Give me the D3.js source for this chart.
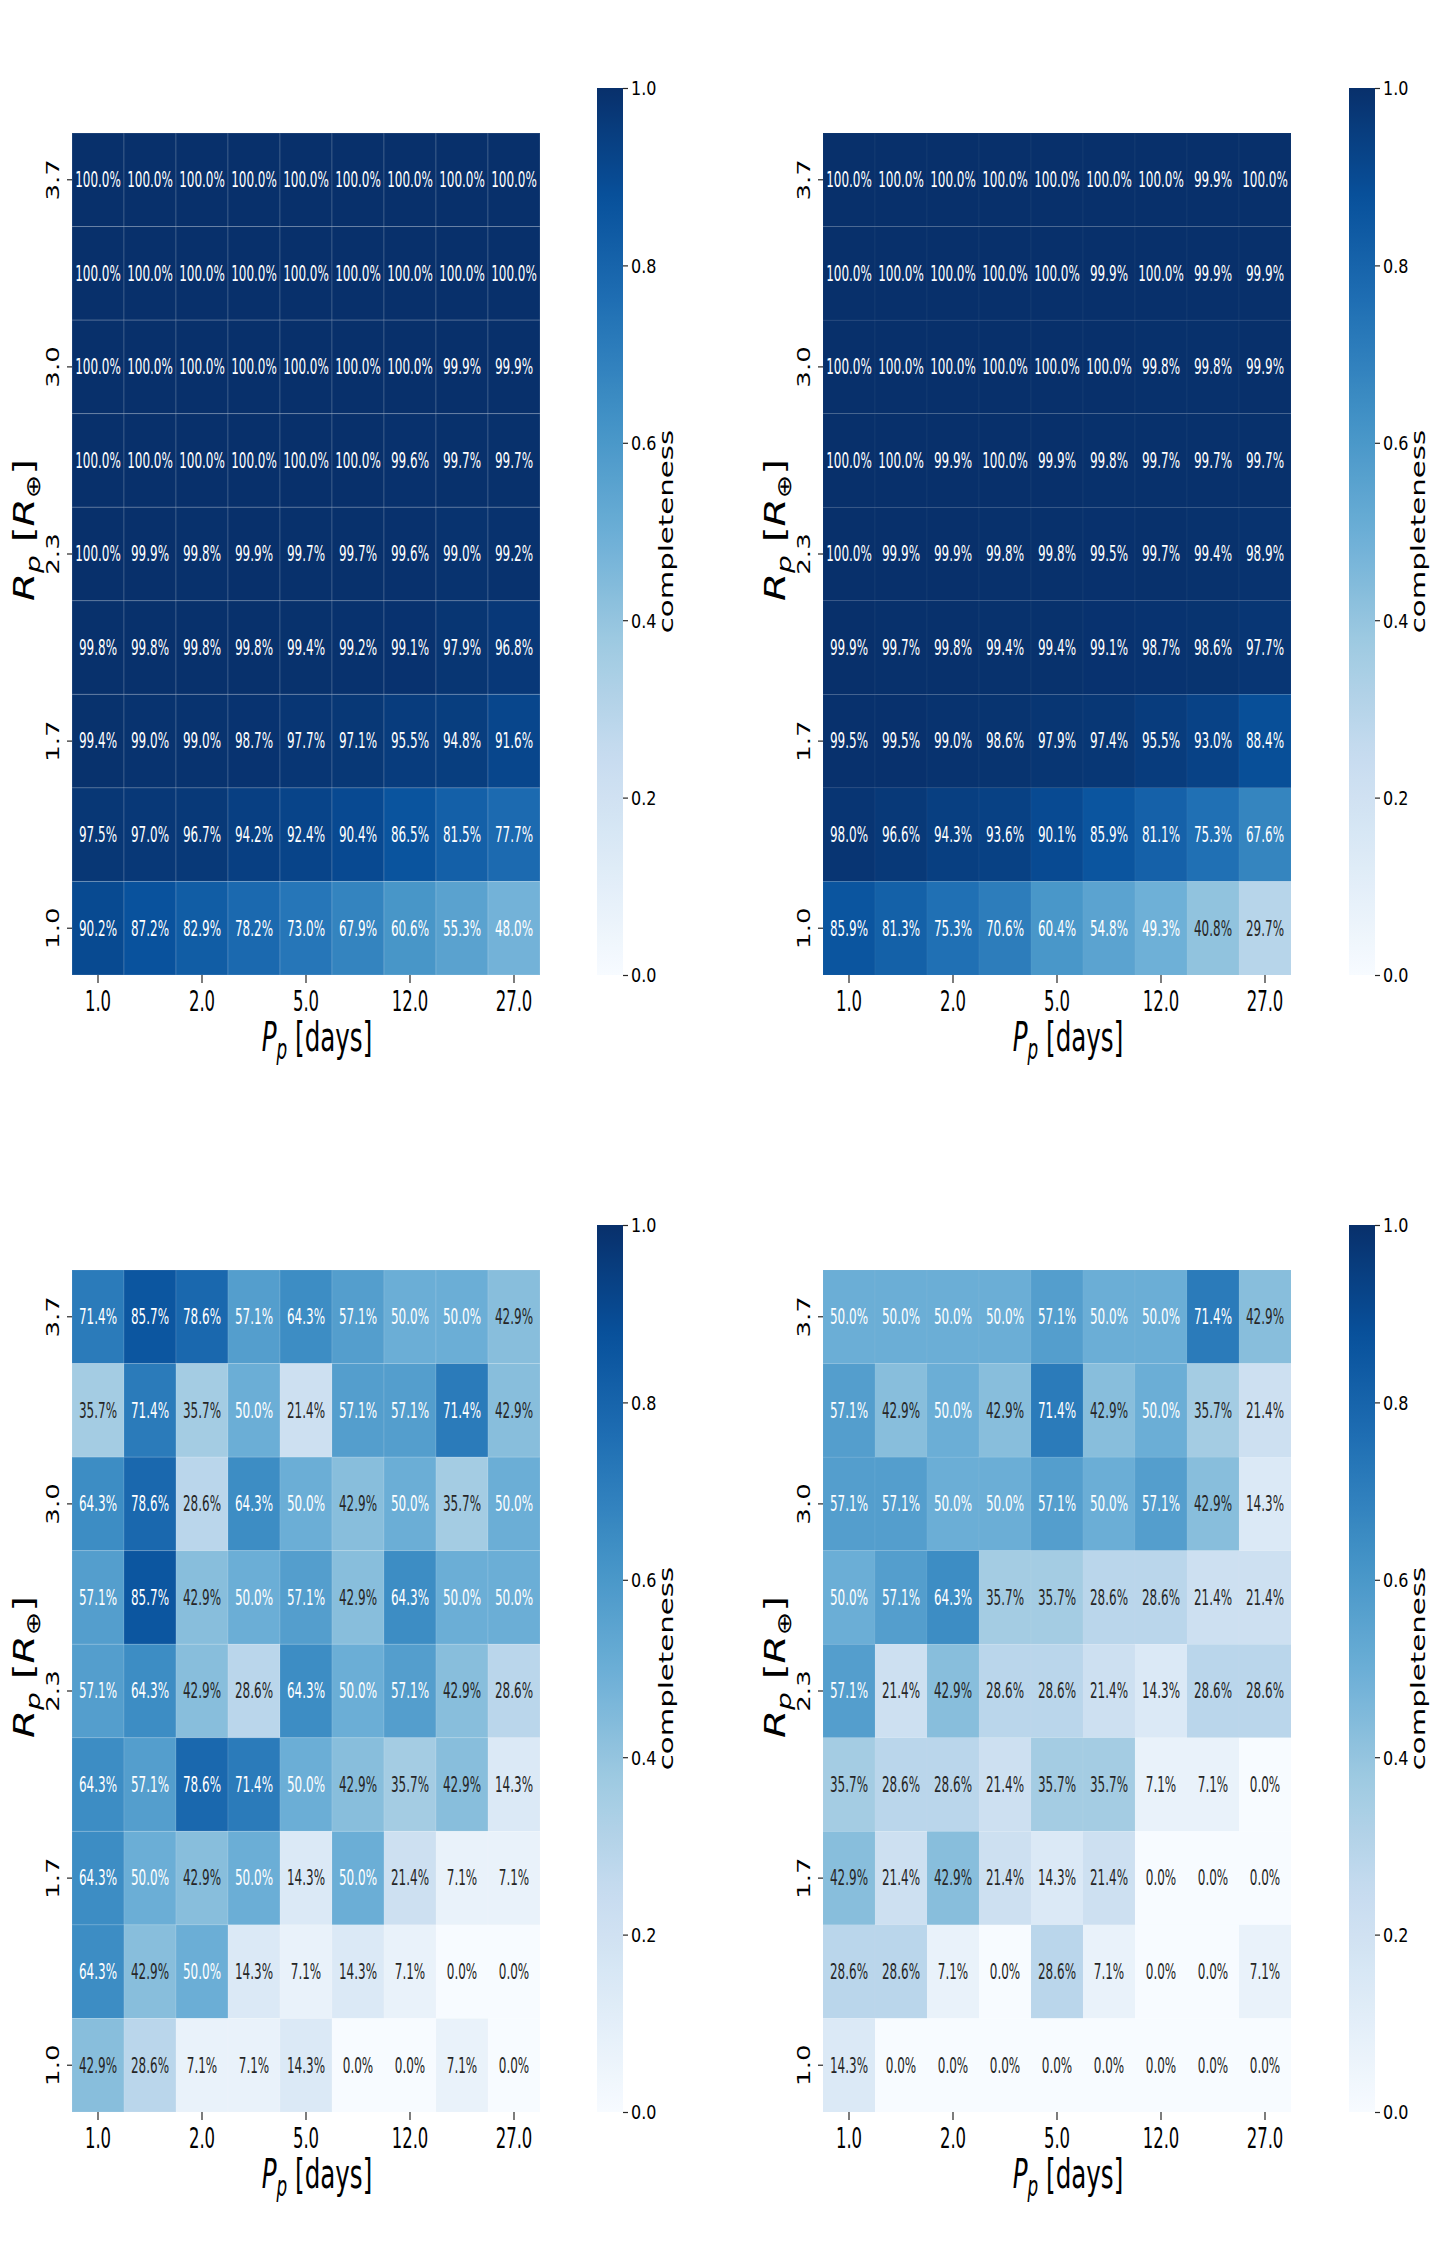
<!DOCTYPE html>
<html><head><meta charset="utf-8">
<script src="https://cdn.jsdelivr.net/npm/d3@7"></script>
<style>body{margin:0;background:#fff} svg{display:block}</style>
</head><body><svg id="chart" width="1454" height="2260"></svg>
<script>
// ---------- data ----------
const periodLabels = ["1.0","","2.0","","5.0","","12.0","","27.0"];
const radiusLabels = ["3.7","","3.0","","2.3","","1.7","","1.0"];
const colorbarTicks = [0, 0.2, 0.4, 0.6, 0.8, 1.0];

// rows listed top (3.7) to bottom (1.0), columns 1.0 -> 27.0 days; values in %
const completenessA = [
  [100.0,100.0,100.0,100.0,100.0,100.0,100.0,100.0,100.0],
  [100.0,100.0,100.0,100.0,100.0,100.0,100.0,100.0,100.0],
  [100.0,100.0,100.0,100.0,100.0,100.0,100.0,99.9,99.9],
  [100.0,100.0,100.0,100.0,100.0,100.0,99.6,99.7,99.7],
  [100.0,99.9,99.8,99.9,99.7,99.7,99.6,99.0,99.2],
  [99.8,99.8,99.8,99.8,99.4,99.2,99.1,97.9,96.8],
  [99.4,99.0,99.0,98.7,97.7,97.1,95.5,94.8,91.6],
  [97.5,97.0,96.7,94.2,92.4,90.4,86.5,81.5,77.7],
  [90.2,87.2,82.9,78.2,73.0,67.9,60.6,55.3,48.0]
];
const completenessB = [
  [100.0,100.0,100.0,100.0,100.0,100.0,100.0,99.9,100.0],
  [100.0,100.0,100.0,100.0,100.0,99.9,100.0,99.9,99.9],
  [100.0,100.0,100.0,100.0,100.0,100.0,99.8,99.8,99.9],
  [100.0,100.0,99.9,100.0,99.9,99.8,99.7,99.7,99.7],
  [100.0,99.9,99.9,99.8,99.8,99.5,99.7,99.4,98.9],
  [99.9,99.7,99.8,99.4,99.4,99.1,98.7,98.6,97.7],
  [99.5,99.5,99.0,98.6,97.9,97.4,95.5,93.0,88.4],
  [98.0,96.6,94.3,93.6,90.1,85.9,81.1,75.3,67.6],
  [85.9,81.3,75.3,70.6,60.4,54.8,49.3,40.8,29.7]
];
const completenessC = [
  [71.4,85.7,78.6,57.1,64.3,57.1,50.0,50.0,42.9],
  [35.7,71.4,35.7,50.0,21.4,57.1,57.1,71.4,42.9],
  [64.3,78.6,28.6,64.3,50.0,42.9,50.0,35.7,50.0],
  [57.1,85.7,42.9,50.0,57.1,42.9,64.3,50.0,50.0],
  [57.1,64.3,42.9,28.6,64.3,50.0,57.1,42.9,28.6],
  [64.3,57.1,78.6,71.4,50.0,42.9,35.7,42.9,14.3],
  [64.3,50.0,42.9,50.0,14.3,50.0,21.4,7.1,7.1],
  [64.3,42.9,50.0,14.3,7.1,14.3,7.1,0.0,0.0],
  [42.9,28.6,7.1,7.1,14.3,0.0,0.0,7.1,0.0]
];
const completenessD = [
  [50.0,50.0,50.0,50.0,57.1,50.0,50.0,71.4,42.9],
  [57.1,42.9,50.0,42.9,71.4,42.9,50.0,35.7,21.4],
  [57.1,57.1,50.0,50.0,57.1,50.0,57.1,42.9,14.3],
  [50.0,57.1,64.3,35.7,35.7,28.6,28.6,21.4,21.4],
  [57.1,21.4,42.9,28.6,28.6,21.4,14.3,28.6,28.6],
  [35.7,28.6,28.6,21.4,35.7,35.7,7.1,7.1,0.0],
  [42.9,21.4,42.9,21.4,14.3,21.4,0.0,0.0,0.0],
  [28.6,28.6,7.1,0.0,28.6,7.1,0.0,0.0,7.1],
  [14.3,0.0,0.0,0.0,0.0,0.0,0.0,0.0,0.0]
];

// ---------- styling / layout ----------
const bluesStops = ["#f7fbff","#deebf7","#c6dbef","#9ecae1","#6baed6","#4292c6","#2171b5","#08519c","#08306b"];
const color = d3.scaleSequential(d3.piecewise(d3.interpolateRgb, bluesStops)).domain([0, 1]);

const panels = [
  {data: completenessA, x0: 72,  x1: 540,  y0: 133,  y1: 975,  cbX: 597,  cbY0: 88,   gridOp: 0.16},
  {data: completenessB, x0: 823, x1: 1291, y0: 133,  y1: 975,  cbX: 1349, cbY0: 88,   gridOp: 0.04},
  {data: completenessC, x0: 72,  x1: 540,  y0: 1270, y1: 2112, cbX: 597,  cbY0: 1225, gridOp: 0.12},
  {data: completenessD, x0: 823, x1: 1291, y0: 1270, y1: 2112, cbX: 1349, cbY0: 1225, gridOp: 0.05}
];
const CB_W = 26;
const FONT = "'DejaVu Sans', sans-serif";
const TXT_DARK = "#262626";

function lum(c) {
  const rgb = d3.rgb(c);
  const f = v => { v /= 255; return v <= 0.03928 ? v / 12.92 : Math.pow((v + 0.055) / 1.055, 2.4); };
  return 0.2126 * f(rgb.r) + 0.7152 * f(rgb.g) + 0.0722 * f(rgb.b);
}

const svg = d3.select("#chart");
const defs = svg.append("defs");
const fmt = d3.format(".1f");

panels.forEach((P, pi) => {
  const g = svg.append("g");
  const x = d3.scaleBand().domain(d3.range(9)).range([P.x0, P.x1]);
  const y = d3.scaleBand().domain(d3.range(9)).range([P.y0, P.y1]);

  const cells = [];
  P.data.forEach((row, r) => row.forEach((v, c) => cells.push({r, c, v})));

  g.selectAll("rect.cell").data(cells).join("rect")
    .attr("class", "cell")
    .attr("x", d => x(d.c)).attr("y", d => y(d.r))
    .attr("width", x.bandwidth()).attr("height", y.bandwidth())
    .attr("fill", d => color(d.v / 100))
    .attr("stroke", "#fff").attr("stroke-opacity", P.gridOp).attr("stroke-width", 1);

  g.selectAll("text.ann").data(cells).join("text")
    .attr("class", "ann")
    .attr("transform", d => `translate(${x(d.c) + x.bandwidth() / 2},${y(d.r) + y.bandwidth() / 2}) scale(0.585,1)`)
    .attr("text-anchor", "middle").attr("dy", "0.36em")
    .attr("font-family", FONT).attr("font-size", 20.5)
    .attr("fill", d => lum(color(d.v / 100)) > 0.408 ? TXT_DARK : "#ffffff")
    .text(d => fmt(d.v) + "%");

  // x axis
  const xAxis = g.append("g").attr("transform", `translate(0,${P.y1})`)
    .call(d3.axisBottom(x).tickValues([0, 2, 4, 6, 8]).tickFormat(i => periodLabels[i]).tickSize(8));
  xAxis.select(".domain").remove();
  xAxis.selectAll(".tick line").attr("stroke", TXT_DARK).attr("stroke-width", 1.2);
  xAxis.selectAll(".tick text")
    .attr("y", null).attr("dy", null)
    .attr("transform", "translate(0,36) scale(0.6,1)")
    .attr("font-family", FONT).attr("font-size", 27.5).attr("fill", "#000");

  // y axis
  const yAxis = g.append("g").attr("transform", `translate(${P.x0},0)`)
    .call(d3.axisLeft(y).tickValues([0, 2, 4, 6, 8]).tickFormat(i => radiusLabels[i]).tickSize(5));
  yAxis.select(".domain").remove();
  yAxis.selectAll(".tick line").attr("stroke", TXT_DARK).attr("stroke-width", 1.2);
  yAxis.selectAll(".tick text")
    .attr("x", null).attr("dy", null)
    .attr("text-anchor", "middle")
    .attr("transform", "translate(-13,0) rotate(-90) scale(1.45,1)")
    .attr("font-family", FONT).attr("font-size", 18).attr("fill", "#000");

  // x label
  const xl = g.append("text")
    .attr("transform", `translate(${(P.x0 + P.x1) / 2 + 11},${P.y1 + 76}) scale(0.6,1)`)
    .attr("text-anchor", "middle").attr("font-family", FONT).attr("font-size", 41).attr("fill", "#000");
  xl.append("tspan").attr("font-style", "italic").text("P");
  xl.append("tspan").attr("font-style", "italic").attr("font-size", 28).attr("dy", 8).text("p");
  xl.append("tspan").attr("dy", -8).text(" [days]");

  // y label
  const yl = g.append("text")
    .attr("transform", `translate(${P.x0 - 38},${(P.y0 + P.y1) / 2 - 24}) rotate(-90) scale(1.4,1)`)
    .attr("text-anchor", "middle").attr("font-family", FONT).attr("font-size", 29).attr("fill", "#000");
  yl.append("tspan").attr("font-style", "italic").text("R");
  yl.append("tspan").attr("font-style", "italic").attr("font-size", 20).attr("dy", 6).text("p");
  yl.append("tspan").attr("dy", -6).text(" [");
  yl.append("tspan").attr("font-style", "italic").text("R");
  yl.append("tspan").attr("font-size", 20).attr("dy", 6).text("⊕");
  yl.append("tspan").attr("dy", -6).text("]");

  // colorbar
  const cb = d3.scaleLinear().domain([0, 1]).range([P.y1, P.cbY0]);
  const gid = "cbgrad" + pi;
  const grad = defs.append("linearGradient").attr("id", gid)
    .attr("x1", 0).attr("y1", 1).attr("x2", 0).attr("y2", 0);
  grad.selectAll("stop").data(d3.range(0, 1.0001, 0.02)).join("stop")
    .attr("offset", d => d).attr("stop-color", d => color(d));
  g.append("rect").attr("x", P.cbX).attr("y", P.cbY0)
    .attr("width", CB_W).attr("height", P.y1 - P.cbY0)
    .attr("fill", `url(#${gid})`);
  const cbAxis = g.append("g").attr("transform", `translate(${P.cbX + CB_W},0)`)
    .call(d3.axisRight(cb).tickValues(colorbarTicks).tickFormat(d3.format(".1f")).tickSize(5));
  cbAxis.select(".domain").remove();
  cbAxis.selectAll(".tick line").attr("stroke", TXT_DARK).attr("stroke-width", 1.2);
  cbAxis.selectAll(".tick text")
    .attr("x", null)
    .attr("transform", "translate(8,0) scale(1,1.2)")
    .attr("dy", "0.36em")
    .attr("font-family", FONT).attr("font-size", 16).attr("fill", "#000");

  g.append("text")
    .attr("transform", `translate(${P.cbX + CB_W + 50},${(P.cbY0 + P.y1) / 2}) rotate(-90) scale(1.5,1)`)
    .attr("text-anchor", "middle").attr("font-family", FONT).attr("font-size", 19.5).attr("fill", "#000")
    .text("completeness");
});
</script>
</body></html>
